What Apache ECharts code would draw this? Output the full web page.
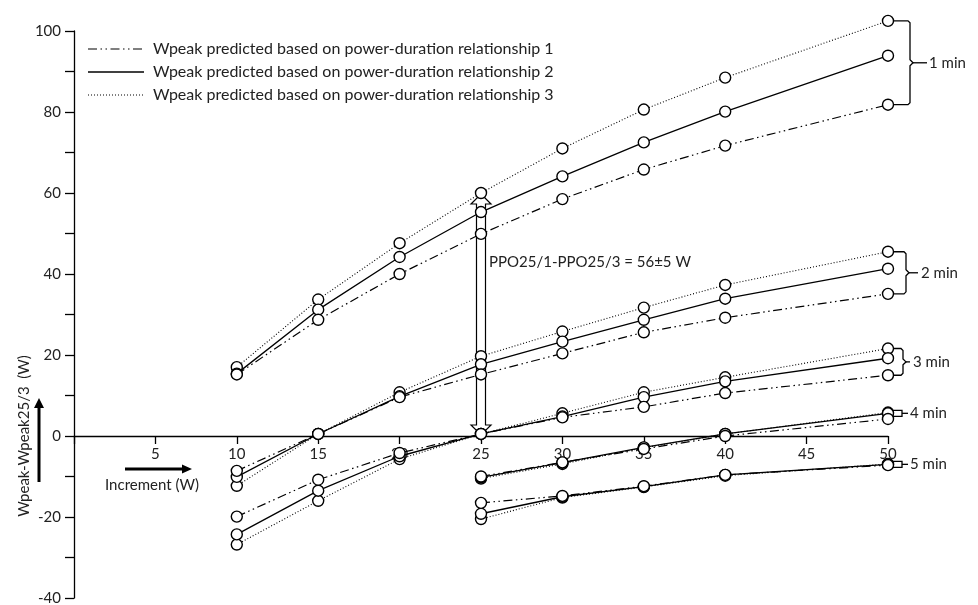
<!DOCTYPE html>
<html><head><meta charset="utf-8">
<script src="https://cdn.jsdelivr.net/npm/echarts@6/dist/echarts.min.js"></script>
<style>html,body{margin:0;padding:0;background:#fff}#c{width:978px;height:605px}</style>
</head><body><div id="c"></div>
<script>
// ---- data ----
const incrementsA = [10, 15, 20, 25, 30, 35, 40, 50];
const incrementsB = [25, 30, 35, 40, 50];

const min1Rel1 = [15.2, 28.7, 40.0, 49.9, 58.5, 65.8, 71.7, 81.8];
const min1Rel2 = [15.4, 31.2, 44.2, 55.3, 64.1, 72.5, 80.1, 93.9];
const min1Rel3 = [17.0, 33.7, 47.6, 60.0, 71.0, 80.6, 88.5, 102.5];

const min2Rel1 = [-8.6, 0.5, 9.6, 15.2, 20.4, 25.6, 29.2, 35.1];
const min2Rel2 = [-10.1, 0.5, 9.8, 17.7, 23.3, 28.7, 33.9, 41.3];
const min2Rel3 = [-12.3, 0.5, 10.8, 19.7, 25.8, 31.7, 37.3, 45.5];

const min3Rel1 = [-19.9, -10.8, -4.2, 0.5, 4.6, 7.2, 10.6, 15.0];
const min3Rel2 = [-24.3, -13.5, -5.0, 0.5, 4.8, 9.6, 13.5, 19.2];
const min3Rel3 = [-26.8, -16.0, -5.7, 0.5, 5.6, 10.8, 14.5, 21.6];

const min4Rel1 = [-10.0, -6.5, -3.2, 0.0, 4.2];
const min4Rel2 = [-10.2, -6.6, -2.8, 0.5, 5.6];
const min4Rel3 = [-10.5, -6.9, -2.9, 0.5, 5.8];

const min5Rel1 = [-16.5, -14.8, -12.4, -9.6, -7.2];
const min5Rel2 = [-19.2, -15.0, -12.5, -9.6, -7.0];
const min5Rel3 = [-20.5, -15.2, -12.6, -9.8, -6.9];

const relNames = [
  'Wpeak predicted based on power-duration relationship 1',
  'Wpeak predicted based on power-duration relationship 2',
  'Wpeak predicted based on power-duration relationship 3'
];
const durationLabels = ['1 min', '2 min', '3 min', '4 min', '5 min'];
const yTitle = 'Wpeak-Wpeak25/3  (W)';
const xTitle = 'Increment (W)';
const diffNote = 'PPO25/1-PPO25/3 = 56\u00b15 W';
const diffFrom = 0, diffTo = 60, diffAt = 25;
const xMin = 0, xMax = 50, xStep = 5;
const yMin = -40, yMax = 100, yStep = 10, yLabelStep = 20;

// ---- build ----
const FONT = 'Lato, "Liberation Sans", sans-serif';
const dashes = [[9, 3.5, 1.5, 3.5, 1.5, 3.5], null, [1, 2]];
const widths = [1.2, 1.3, 1.1];
const GRID = {left: 74, top: 31, width: 814, height: 567};

const groups = [
  {x: incrementsA, rels: [min1Rel1, min1Rel2, min1Rel3]},
  {x: incrementsA, rels: [min2Rel1, min2Rel2, min2Rel3]},
  {x: incrementsA, rels: [min3Rel1, min3Rel2, min3Rel3]},
  {x: incrementsB, rels: [min4Rel1, min4Rel2, min4Rel3]},
  {x: incrementsB, rels: [min5Rel1, min5Rel2, min5Rel3]}
];

const series = [];
groups.forEach((g, gi) => {
  [2, 1, 0].forEach(ri => {
    series.push({
      type: 'line',
      name: relNames[ri],
      data: g.x.map((xv, i) => [xv, g.rels[ri][i]]),
      symbol: 'circle',
      symbolSize: 11,
      showSymbol: true,
      clip: false,
      itemStyle: {color: '#fff', borderColor: '#000', borderWidth: 1.4},
      lineStyle: {color: '#000', width: widths[ri], type: dashes[ri] || 'solid'},
      z: 2,
      silent: true
    });
  });
});

// x axis drawn at y = 0: shift from grid bottom up by the zero position
const zeroOffset = -GRID.height * (0 - yMin) / (yMax - yMin);

const chart = echarts.init(document.getElementById('c'), null, {renderer: 'canvas'});
chart.setOption({
  animation: false,
  backgroundColor: '#fff',
  textStyle: {fontFamily: FONT},
  grid: Object.assign({outerBoundsMode: 'none', containLabel: false}, GRID),
  xAxis: {
    type: 'value', min: xMin, max: xMax, interval: xStep,
    position: 'bottom', offset: zeroOffset,
    axisLine: {onZero: false, lineStyle: {color: '#000', width: 1.3}},
    axisTick: {show: true, length: 8, lineStyle: {color: '#000', width: 1.3}},
    axisLabel: {margin: 11, fontSize: 15, color: '#222', fontFamily: FONT,
      formatter: v => (v === 0 ? '' : String(v))},
    splitLine: {show: false}
  },
  yAxis: {
    type: 'value', min: yMin, max: yMax, interval: yStep,
    axisLine: {show: true, onZero: false, lineStyle: {color: '#000', width: 1.3}},
    axisTick: {show: true, length: 9, lineStyle: {color: '#000', width: 1.3}},
    axisLabel: {margin: 13, fontSize: 15, color: '#222', fontFamily: FONT,
      formatter: v => (v % yLabelStep === 0 ? String(v) : '')},
    splitLine: {show: false}
  },
  series: series
});

const P = (x, y) => chart.convertToPixel({gridIndex: 0}, [x, y]);
const g = [];
const txt = (x, y, text, extra) => Object.assign({
  type: 'text', x: x, y: y, z: 10,
  style: Object.assign({text: text, fill: '#222', font: '15px ' + FONT, align: 'left', verticalAlign: 'middle'}, (extra || {}))
});

// legend
const legY = [49, 72, 95];
legY.forEach((ly, i) => {
  g.push({type: 'line', z: 10, shape: {x1: 88, y1: ly, x2: 144, y2: ly},
    style: {stroke: '#000', lineWidth: i === 1 ? 1.4 : 1.2, lineDash: dashes[i] || null}});
  g.push(txt(153, ly, relNames[i], {font: '16px ' + FONT}));
});

// y title
const y0 = P(0, 0)[1];
g.push({type: 'text', x: 24, y: y0, rotation: Math.PI / 2, z: 10,
  style: {text: yTitle, fill: '#222', font: '15px ' + FONT, align: 'center', verticalAlign: 'middle'}});
// vertical arrow
g.push({type: 'polygon', z: 10, shape: {points: [[37.5, 482], [40.5, 482], [40.5, 408], [44, 408], [39, 398], [34, 408], [37.5, 408]]},
  style: {fill: '#000'}});
// horizontal arrow
g.push({type: 'polygon', z: 10, shape: {points: [[125, 467.5], [182, 467.5], [182, 464.5], [192, 469], [182, 473.5], [182, 470.5], [125, 470.5]]},
  style: {fill: '#000'}});
g.push(txt(152, 485, xTitle, {align: 'center'}));

// hollow double arrow
const a = P(diffAt, diffTo), b = P(diffAt, diffFrom);
const cx = a[0], ty = a[1] + 1, by = b[1] - 1;
g.push({type: 'polygon', z: 1, shape: {points: [
  [cx, ty], [cx + 10, ty + 10], [cx + 4.5, ty + 10], [cx + 4.5, by - 10], [cx + 10, by - 10], [cx, by],
  [cx - 10, by - 10], [cx - 4.5, by - 10], [cx - 4.5, ty + 10], [cx - 10, ty + 10]]},
  style: {fill: '#fff', stroke: '#000', lineWidth: 1.2}});
g.push(txt(cx + 8, 262, diffNote));

// braces
const braceX = [910, 906, 903, 902, 902];
const labelX = [929, 921, 913, 910, 910];
const lineEnd = [927, 918, 910, 908, 908];
groups.forEach((gr, gi) => {
  const last = gr.x.length - 1;
  const vals = gr.rels.map(r => r[last]);
  const px0 = P(gr.x[last], 0)[0] + 6;
  let top, bot;
  if (gi < 3) {
    top = P(gr.x[last], Math.max(...vals))[1];
    bot = P(gr.x[last], Math.min(...vals))[1];
  } else {
    const m = P(gr.x[last], gr.rels[1][last])[1];
    top = m - 3; bot = m + 3;
  }
  const mid = (top + bot) / 2;
  const xv = braceX[gi];
  let pts;
  if (gi < 3) {
    pts = [[px0, top], [xv - 2, top], [xv, top + 2], [xv, mid - 3], [xv + 3, mid], [xv, mid + 3], [xv, bot - 2], [xv - 2, bot], [px0, bot]];
  } else {
    pts = [[px0 - 1, top], [xv, top], [xv, bot], [px0 - 1, bot]];
  }
  g.push({type: 'polyline', z: 10, shape: {points: pts}, style: {stroke: '#000', lineWidth: 1.3, fill: null}});
  g.push({type: 'line', z: 10, shape: {x1: gi < 3 ? xv + 3 : xv, y1: mid, x2: lineEnd[gi], y2: mid}, style: {stroke: '#000', lineWidth: 1.3}});
  g.push(txt(labelX[gi], mid, durationLabels[gi]));
});

chart.setOption({graphic: {elements: g}});
</script></body></html>
